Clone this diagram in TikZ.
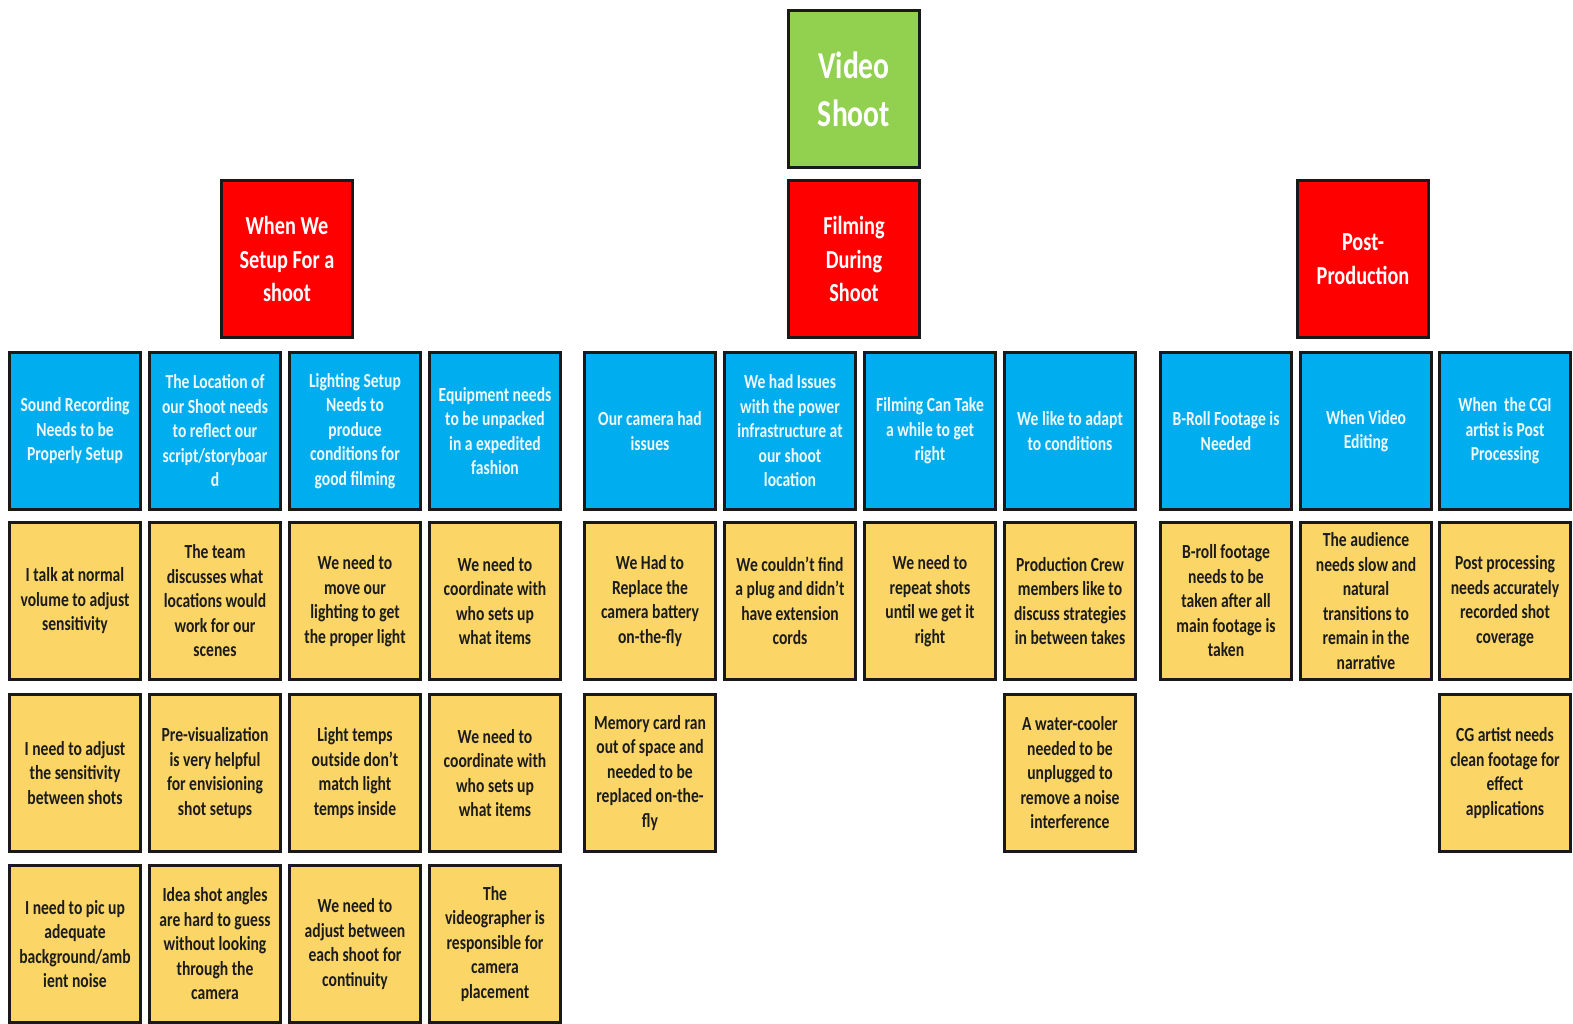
\documentclass[tikz,border=0pt]{standalone}
\usepackage{fontspec}
\setmainfont{Carlito}[FakeStretch=0.78]
\definecolor{topgreen}{HTML}{92D050}
\definecolor{phasered}{HTML}{FF0000}
\definecolor{themeblue}{HTML}{00AEEF}
\definecolor{notegold}{HTML}{FBD566}
\definecolor{paleText}{HTML}{EEF8FC}
\definecolor{inkText}{HTML}{1C1C1C}
\tikzset{
  card/.style={draw=black!90, line width=3pt, anchor=north west,
    minimum width=131pt, minimum height=157pt, align=center, inner sep=2pt,
    font=\bfseries\fontsize{20}{24.5}\selectfont},
  rootcard/.style={card, fill=topgreen, text=white,
    font=\bfseries\fontsize{38}{48}\selectfont},
  phasecard/.style={card, fill=phasered, text=white,
    font=\bfseries\fontsize{26}{33.5}\selectfont},
  themecard/.style={card, fill=themeblue, text=paleText},
  notecard/.style={card, fill=notegold, text=inkText},
}
\begin{document}
\begin{tikzpicture}[x=1pt, y=-1pt]
\useasboundingbox[fill=white] (0,0) rectangle (1573,1024);

% root and phases
\node[rootcard] (root) at (787,9) {Video\\Shoot};
\node[phasecard] (setup) at (220,179) {When We\\Setup For a\\shoot};
\node[phasecard] (filming) at (787,179) {Filming\\During\\Shoot};
\node[phasecard] (post) at (1296,179) {Post-\\Production};

% themes: setup
\node[themecard] (t11) at (8,351) {Sound Recording\\Needs to be\\Properly Setup};
\node[themecard] (t12) at (148,351) {The Location of\\our Shoot needs\\to reflect our\\script/storyboar\\d};
\node[themecard] (t13) at (288,351) {Lighting Setup\\Needs to\\produce\\conditions for\\good filming};
\node[themecard] (t14) at (428,351) {Equipment needs\\to be unpacked\\in a expedited\\fashion};
% themes: filming
\node[themecard] (t21) at (583,351) {Our camera had\\issues};
\node[themecard] (t22) at (723,351) {We had Issues\\with the power\\infrastructure at\\our shoot\\location};
\node[themecard] (t23) at (863,351) {Filming Can Take\\a while to get\\right};
\node[themecard] (t24) at (1003,351) {We like to adapt\\to conditions};
% themes: post-production
\node[themecard] (t31) at (1159,351) {B-Roll Footage is\\Needed};
\node[themecard] (t32) at (1299,351) {When Video\\Editing};
\node[themecard] (t33) at (1438,351) {When\ \ the CGI\\artist is Post\\Processing};

% notes, first row
\node[notecard] (n111) at (8,521) {I talk at normal\\volume to adjust\\sensitivity};
\node[notecard] (n121) at (148,521) {The team\\discusses what\\locations would\\work for our\\scenes};
\node[notecard] (n131) at (288,521) {We need to\\move our\\lighting to get\\the proper light};
\node[notecard] (n141) at (428,521) {We need to\\coordinate with\\who sets up\\what items};
\node[notecard] (n211) at (583,521) {We Had to\\Replace the\\camera battery\\on-the-fly};
\node[notecard] (n221) at (723,521) {We couldn’t find\\a plug and didn’t\\have extension\\cords};
\node[notecard] (n231) at (863,521) {We need to\\repeat shots\\until we get it\\right};
\node[notecard] (n241) at (1003,521) {Production Crew\\members like to\\discuss strategies\\in between takes};
\node[notecard] (n311) at (1159,521) {B-roll footage\\needs to be\\taken after all\\main footage is\\taken};
\node[notecard] (n321) at (1299,521) {The audience\\needs slow and\\natural\\transitions to\\remain in the\\narrative};
\node[notecard] (n331) at (1438,521) {Post processing\\needs accurately\\recorded shot\\coverage};

% notes, second row
\node[notecard] (n112) at (8,693) {I need to adjust\\the sensitivity\\between shots};
\node[notecard] (n122) at (148,693) {Pre-visualization\\is very helpful\\for envisioning\\shot setups};
\node[notecard] (n132) at (288,693) {Light temps\\outside don’t\\match light\\temps inside};
\node[notecard] (n142) at (428,693) {We need to\\coordinate with\\who sets up\\what items};
\node[notecard] (n212) at (583,693) {Memory card ran\\out of space and\\needed to be\\replaced on-the-\\fly};
\node[notecard] (n242) at (1003,693) {A water-cooler\\needed to be\\unplugged to\\remove a noise\\interference};
\node[notecard] (n332) at (1438,693) {CG artist needs\\clean footage for\\effect\\applications};

% notes, third row
\node[notecard] (n113) at (8,864) {I need to pic up\\adequate\\background/amb\\ient noise};
\node[notecard] (n123) at (148,864) {Idea shot angles\\are hard to guess\\without looking\\through the\\camera};
\node[notecard] (n133) at (288,864) {We need to\\adjust between\\each shoot for\\continuity};
\node[notecard] (n143) at (428,864) {The\\videographer is\\responsible for\\camera\\placement};
\end{tikzpicture}
\end{document}
